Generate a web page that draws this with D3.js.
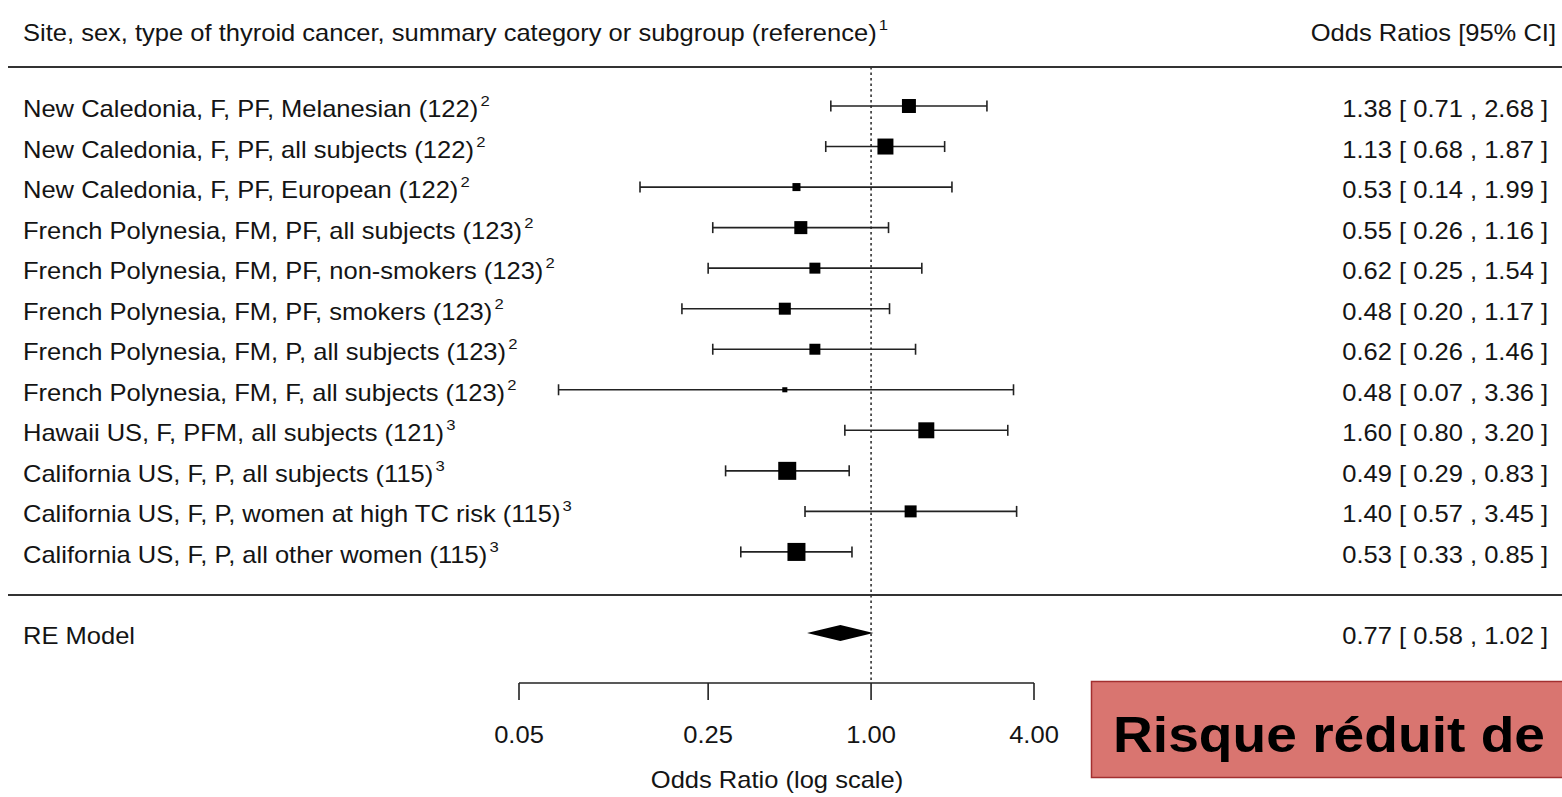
<!DOCTYPE html>
<html>
<head>
<meta charset="utf-8">
<script src="https://cdn.jsdelivr.net/npm/d3@7/dist/d3.min.js"></script>
<style>
  html, body { margin: 0; padding: 0; background: #fff; }
  svg { display: block; }
  text { font-family: "Liberation Sans", Arial, sans-serif; fill: #141414; }
</style>
</head>
<body>
<svg id="chart" width="1562" height="797"></svg>
<script>
// ---------- data ----------
const studyLabels = [
  "New Caledonia, F, PF, Melanesian (122)",
  "New Caledonia, F, PF, all subjects (122)",
  "New Caledonia, F, PF, European (122)",
  "French Polynesia, FM, PF, all subjects (123)",
  "French Polynesia, FM, PF, non-smokers (123)",
  "French Polynesia, FM, PF, smokers (123)",
  "French Polynesia, FM, P, all subjects (123)",
  "French Polynesia, FM, F, all subjects (123)",
  "Hawaii US, F, PFM, all subjects (121)",
  "California US, F, P, all subjects (115)",
  "California US, F, P, women at high TC risk (115)",
  "California US, F, P, all other women (115)"
];
const footnotes = ["2","2","2","2","2","2","2","2","3","3","3","3"];
const oddsRatio = [1.38, 1.13, 0.53, 0.55, 0.62, 0.48, 0.62, 0.48, 1.60, 0.49, 1.40, 0.53];
const ciLower   = [0.71, 0.68, 0.14, 0.26, 0.25, 0.20, 0.26, 0.07, 0.80, 0.29, 0.57, 0.33];
const ciUpper   = [2.68, 1.87, 1.99, 1.16, 1.54, 1.17, 1.46, 3.36, 3.20, 0.83, 3.45, 0.85];
const weights   = [9.1, 11.9, 3.0, 7.9, 5.6, 6.7, 5.6, 1.2, 11.9, 15.1, 6.7, 15.1];
const summary = { label: "RE Model", or: 0.77, lo: 0.58, hi: 1.02 };
const tickValues = [0.05, 0.25, 1.00, 4.00];
const headerLeft = "Site, sex, type of thyroid cancer, summary category or subgroup (reference)";
const headerLeftSup = "1";
const headerRight = "Odds Ratios [95% CI]";
const axisTitle = "Odds Ratio (log scale)";
const boxText = "Risque réduit de";

// ---------- layout ----------
const svg = d3.select("#chart");
const FS = 23, SX = 1.11;
const x = d3.scaleLog().domain([0.05, 4]).range([519, 1034]);
const y = d3.scaleLinear().domain([0, 13]).range([106, 633]);
const size = d3.scaleSqrt().domain([0, 15.1]).range([0, 18]);
const fmt = d3.format(".2f");

function stretchedText(g, tx, ty, anchor) {
  return g.append("text")
    .attr("transform", `translate(${tx},${ty}) scale(${SX},1)`)
    .attr("text-anchor", anchor)
    .attr("font-size", FS);
}

// header
const ht = stretchedText(svg, 23, 41, "start");
ht.append("tspan").text(headerLeft);
ht.append("tspan").attr("font-size", 15).attr("dy", -11).attr("dx", 2).text(headerLeftSup);
stretchedText(svg, 1556, 41, "end").text(headerRight);

// horizontal rules
svg.append("line").attr("x1", 8).attr("x2", 1562).attr("y1", 67).attr("y2", 67)
  .attr("stroke", "#333").attr("stroke-width", 2);
svg.append("line").attr("x1", 8).attr("x2", 1562).attr("y1", 595).attr("y2", 595)
  .attr("stroke", "#333").attr("stroke-width", 2);

// reference line at OR = 1
svg.append("line").attr("x1", x(1)).attr("x2", x(1)).attr("y1", 67).attr("y2", 683)
  .attr("stroke", "#333").attr("stroke-width", 1.6).attr("stroke-dasharray", "2.5,3");

// study rows
const rows = studyLabels.map((l, i) => ({ l, fn: footnotes[i], or: oddsRatio[i], lo: ciLower[i], hi: ciUpper[i], w: weights[i], i }));
const rg = svg.append("g").selectAll("g").data(rows).join("g");

rg.append("line")
  .attr("x1", d => x(d.lo)).attr("x2", d => x(d.hi))
  .attr("y1", d => y(d.i)).attr("y2", d => y(d.i))
  .attr("stroke", "#222").attr("stroke-width", 1.6);
rg.append("line")
  .attr("x1", d => x(d.lo)).attr("x2", d => x(d.lo))
  .attr("y1", d => y(d.i) - 5.5).attr("y2", d => y(d.i) + 5.5)
  .attr("stroke", "#222").attr("stroke-width", 1.6);
rg.append("line")
  .attr("x1", d => x(d.hi)).attr("x2", d => x(d.hi))
  .attr("y1", d => y(d.i) - 5.5).attr("y2", d => y(d.i) + 5.5)
  .attr("stroke", "#222").attr("stroke-width", 1.6);
rg.append("rect")
  .attr("x", d => x(d.or) - size(d.w) / 2).attr("y", d => y(d.i) - size(d.w) / 2)
  .attr("width", d => size(d.w)).attr("height", d => size(d.w))
  .attr("fill", "#000");

rg.each(function(d) {
  const g = d3.select(this);
  const t = stretchedText(g, 23, y(d.i) + 11, "start");
  t.append("tspan").text(d.l);
  t.append("tspan").attr("font-size", 15).attr("dy", -11).attr("dx", 2).text(d.fn);
  stretchedText(g, 1548, y(d.i) + 11, "end")
    .text(`${fmt(d.or)} [ ${fmt(d.lo)} , ${fmt(d.hi)} ]`);
});

// summary diamond
const ys = y(13);
svg.append("polygon")
  .attr("points", [
    [x(summary.lo), ys], [x(summary.or), ys - 8], [x(summary.hi), ys], [x(summary.or), ys + 8]
  ].map(p => p.join(",")).join(" "))
  .attr("fill", "#000");
stretchedText(svg, 23, ys + 11, "start").text(summary.label);
stretchedText(svg, 1548, ys + 11, "end")
  .text(`${fmt(summary.or)} [ ${fmt(summary.lo)} , ${fmt(summary.hi)} ]`);

// x axis
const axisG = svg.append("g").attr("transform", "translate(0,683)");
axisG.append("line").attr("x1", x(0.05)).attr("x2", x(4)).attr("y1", 0).attr("y2", 0)
  .attr("stroke", "#222").attr("stroke-width", 1.6);
axisG.selectAll("line.tick").data(tickValues).join("line").attr("class", "tick")
  .attr("x1", d => x(d)).attr("x2", d => x(d)).attr("y1", 0).attr("y2", 17)
  .attr("stroke", "#222").attr("stroke-width", 1.6);
axisG.selectAll("g.lbl").data(tickValues).join("g").attr("class", "lbl")
  .each(function(d) {
    stretchedText(d3.select(this), x(d), 60, "middle").text(fmt(d));
  });
stretchedText(svg, 777, 788, "middle").text(axisTitle);

// annotation box
svg.append("rect").attr("x", 1091.5).attr("y", 681.5).attr("width", 480).attr("height", 96)
  .attr("fill", "#d97570").attr("stroke", "#a33030").attr("stroke-width", 1.5);
svg.append("text").attr("x", 1113).attr("y", 752)
  .attr("font-family", "Lato, 'Open Sans', sans-serif").attr("font-weight", 700)
  .attr("font-size", 50).attr("textLength", 432).attr("lengthAdjust", "spacingAndGlyphs")
  .style("fill", "#000")
  .text(boxText);
</script>
</body>
</html>
